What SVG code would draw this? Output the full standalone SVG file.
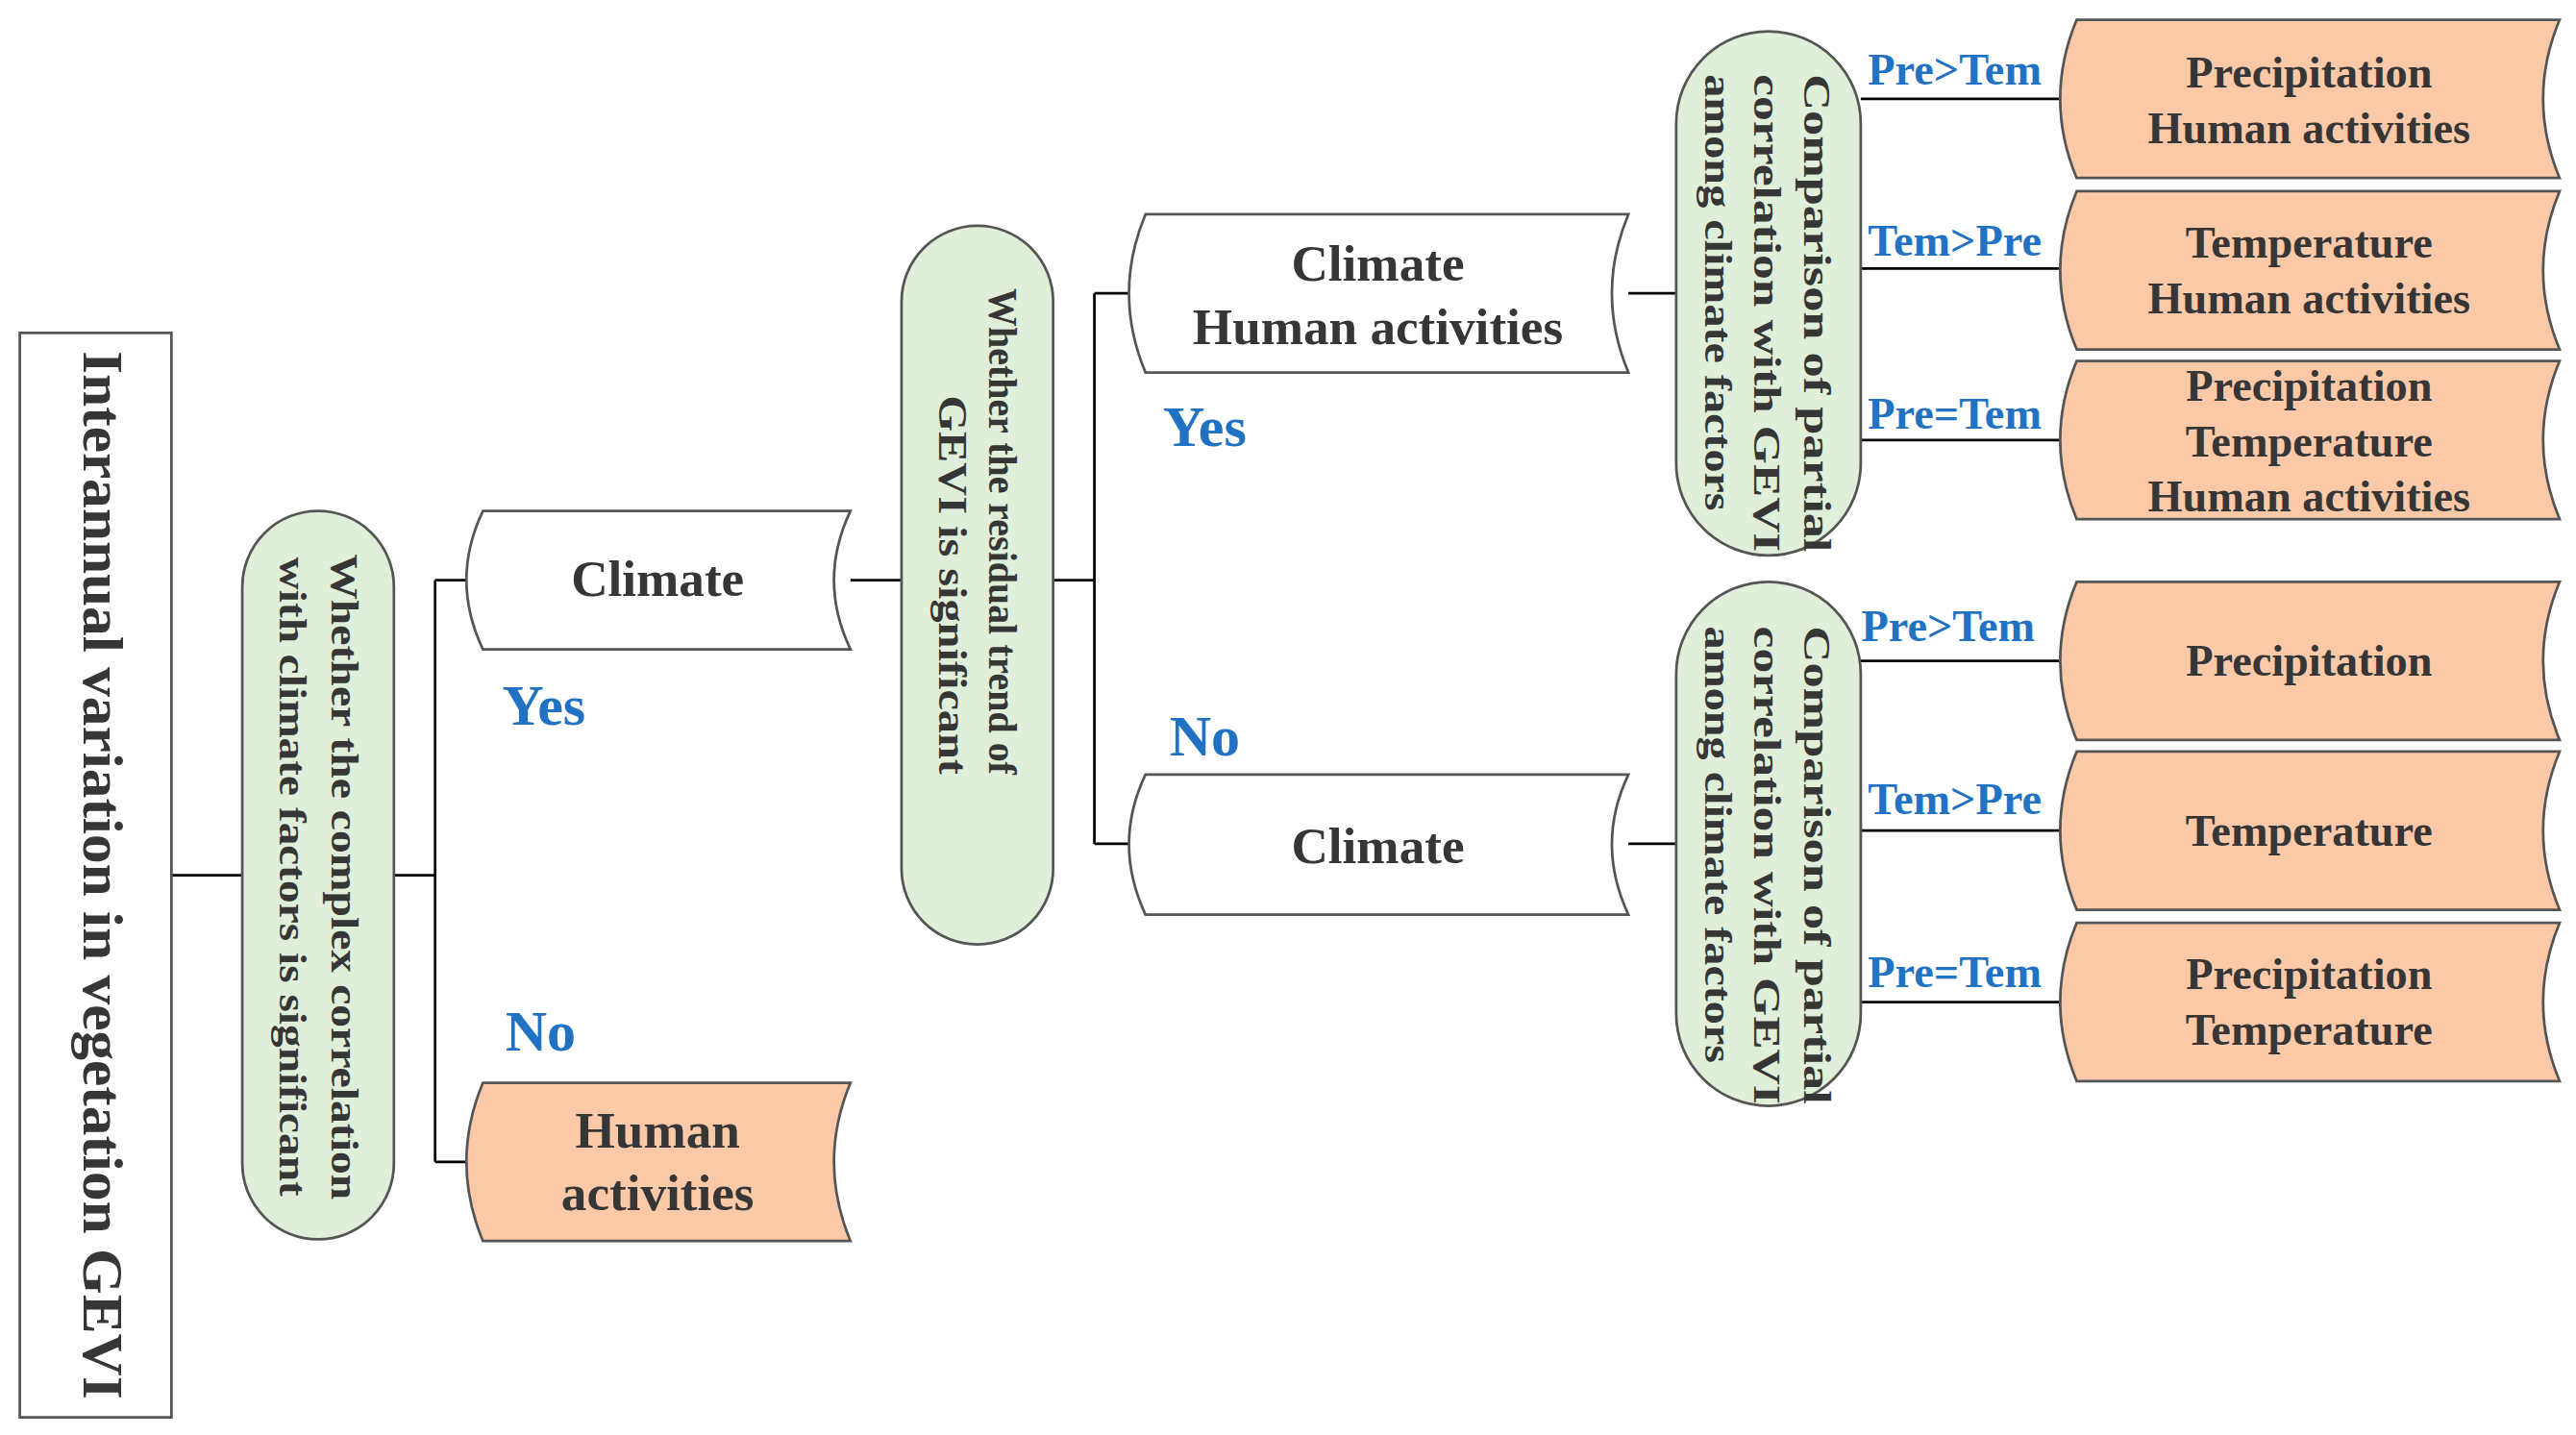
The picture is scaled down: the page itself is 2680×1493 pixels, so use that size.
<svg xmlns="http://www.w3.org/2000/svg" width="2680" height="1493" viewBox="0 0 2680 1493">
<style>
.t{font-family:"Liberation Serif",serif;font-weight:bold;fill:#363636;text-anchor:middle;dominant-baseline:central}
.b{font-family:"Liberation Serif",serif;font-weight:bold;fill:#2272c3;text-anchor:middle;dominant-baseline:central}
.pill{fill:#e0efd9;stroke:#555;stroke-width:1.6}
.pe{fill:#fbc9a8;stroke:#555;stroke-width:1.6}
.wh{fill:#fff;stroke:#555;stroke-width:1.6}
.c{stroke:#000;stroke-width:1.6;fill:none}
</style>
<rect width="2680" height="1493" fill="#fff"/>
<g transform="scale(1.7147)">
<g id="connectors">
<path class="c" d="M104,531H147M239,531H264M264,352V705M264,352H285M264,705H285M516,352H547M639,352H664M664,178V512M664,178H687M664,512H687M988,178H1017M988,512H1017M1129,60H1252M1129,163H1252M1129,267H1252M1129,401H1252M1129,504H1252M1129,608H1252"/>
</g>
<g id="root"><rect x="12" y="202" width="92" height="658" fill="#fff" stroke="#555" stroke-width="1.6"/>
<text class="t" font-size="34" textLength="636" lengthAdjust="spacingAndGlyphs" transform="translate(62,531) rotate(90)">Interannual variation in vegetation GEVI</text></g>
<g id="q1"><rect class="pill" x="147" y="310" width="92" height="442" rx="46"/>
<text class="t" font-size="23" transform="translate(193,532) rotate(90)"><tspan x="0" y="-16" textLength="392" lengthAdjust="spacingAndGlyphs">Whether the complex correlation</tspan><tspan x="0" y="16" textLength="388" lengthAdjust="spacingAndGlyphs">with climate factors is significant</tspan></text></g>
<g id="climate1"><path class="wh" d="M293,310H516Q496,352 516,394H293Q273,352 293,310Z"/><text class="t" font-size="31" x="399" y="351">Climate</text></g>
<text class="b" font-size="35" x="330" y="428">Yes</text>
<text class="b" font-size="35" x="328" y="626">No</text>
<g id="human"><path class="pe" d="M293,657H516Q496,705 516,753H293Q273,705 293,657Z"/><text class="t" font-size="31" x="399" y="686">Human</text><text class="t" font-size="31" x="399" y="724">activities</text></g>
<g id="q2"><rect class="pill" x="547" y="137" width="92" height="436" rx="46"/>
<text class="t" font-size="24" transform="translate(593,0) rotate(90)" style="text-anchor:end"><tspan x="470" y="-15" textLength="295" lengthAdjust="spacingAndGlyphs">Whether the residual trend of</tspan><tspan x="470" y="15" textLength="230" lengthAdjust="spacingAndGlyphs">GEVI is significant</tspan></text></g>
<g id="climhum"><path class="wh" d="M695,130H988Q968,178 988,226H695Q675,178 695,130Z"/><text class="t" font-size="31" x="836" y="160">Climate</text><text class="t" font-size="31" x="836" y="198">Human activities</text></g>
<text class="b" font-size="35" x="731" y="259">Yes</text>
<text class="b" font-size="35" x="731" y="447">No</text>
<g id="climate2"><path class="wh" d="M695,470H988Q968,512 988,555H695Q675,512 695,470Z"/><text class="t" font-size="31" x="836" y="513">Climate</text></g>
<g id="q3"><rect class="pill" x="1017" y="19" width="112" height="318" rx="56"/>
<text class="t" font-size="23" style="text-anchor:start" transform="translate(1072,0) rotate(90)"><tspan x="45" y="-30" textLength="290" lengthAdjust="spacingAndGlyphs">Comparison of partial</tspan><tspan x="45" y="0" textLength="290" lengthAdjust="spacingAndGlyphs">correlation with GEVI</tspan><tspan x="45" y="30" textLength="265" lengthAdjust="spacingAndGlyphs">among climate factors</tspan></text></g>
<g id="q4"><rect class="pill" x="1017" y="353" width="112" height="318" rx="56"/>
<text class="t" font-size="23" style="text-anchor:start" transform="translate(1072,0) rotate(90)"><tspan x="380" y="-30" textLength="290" lengthAdjust="spacingAndGlyphs">Comparison of partial</tspan><tspan x="380" y="0" textLength="290" lengthAdjust="spacingAndGlyphs">correlation with GEVI</tspan><tspan x="380" y="30" textLength="265" lengthAdjust="spacingAndGlyphs">among climate factors</tspan></text></g>
<g id="labels">
<text class="b" font-size="27" x="1186" y="42">Pre&gt;Tem</text>
<text class="b" font-size="27" x="1186" y="146">Tem&gt;Pre</text>
<text class="b" font-size="27" x="1186" y="251">Pre=Tem</text>
<text class="b" font-size="27" x="1182" y="380">Pre&gt;Tem</text>
<text class="b" font-size="27" x="1186" y="485">Tem&gt;Pre</text>
<text class="b" font-size="27" x="1186" y="590">Pre=Tem</text>
</g>
<g id="r1"><path class="pe" d="M1260,12H1553Q1533,60 1553,108H1260Q1240,60 1260,12Z"/><text class="t" font-size="27" x="1401" y="44">Precipitation</text><text class="t" font-size="27" x="1401" y="78">Human activities</text></g>
<g id="r2"><path class="pe" d="M1260,116H1553Q1533,164 1553,212H1260Q1240,164 1260,116Z"/><text class="t" font-size="27" x="1401" y="147">Temperature</text><text class="t" font-size="27" x="1401" y="181">Human activities</text></g>
<g id="r3"><path class="pe" d="M1260,219H1553Q1533,267 1553,315H1260Q1240,267 1260,219Z"/><text class="t" font-size="27" x="1401" y="234">Precipitation</text><text class="t" font-size="27" x="1401" y="268">Temperature</text><text class="t" font-size="27" x="1401" y="301">Human activities</text></g>
<g id="r4"><path class="pe" d="M1260,353H1553Q1533,401 1553,449H1260Q1240,401 1260,353Z"/><text class="t" font-size="27" x="1401" y="401">Precipitation</text></g>
<g id="r5"><path class="pe" d="M1260,456H1553Q1533,504 1553,552H1260Q1240,504 1260,456Z"/><text class="t" font-size="27" x="1401" y="504">Temperature</text></g>
<g id="r6"><path class="pe" d="M1260,560H1553Q1533,608 1553,656H1260Q1240,608 1260,560Z"/><text class="t" font-size="27" x="1401" y="591">Precipitation</text><text class="t" font-size="27" x="1401" y="625">Temperature</text></g>
</g>
</svg>
